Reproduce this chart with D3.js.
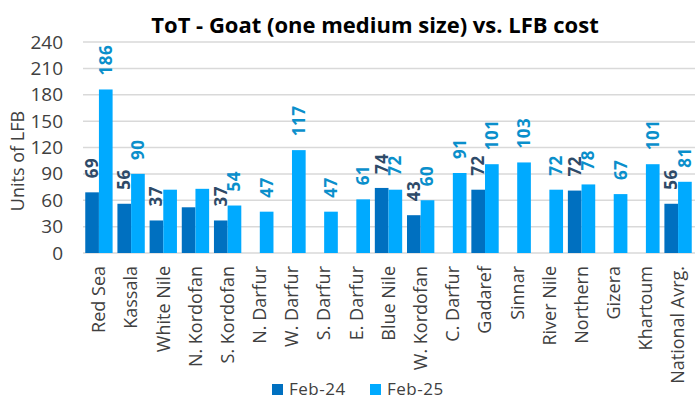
<!DOCTYPE html>
<html>
<head>
<meta charset="utf-8">
<script src="https://cdn.jsdelivr.net/npm/d3@7"></script>
<style>
  body { margin: 0; background: #fff; }
  text { font-family: "Open Sans", sans-serif; }
</style>
</head>
<body>
<div id="chart"></div>
<script>
const categories = ["Red Sea", "Kassala", "White Nile", "N. Kordofan", "S. Kordofan", "N. Darfur",
  "W. Darfur", "S. Darfur", "E. Darfur", "Blue Nile", "W. Kordofan", "C. Darfur", "Gadaref",
  "Sinnar", "River Nile", "Northern", "Gizera", "Khartoum", "National Avrg."];
const feb24 = [69, 56, 37, 52, 37, null, null, null, null, 74, 43, null, 72, null, null, 71, null, null, 56];
const feb25 = [186, 90, 72, 73, 54, 47, 117, 47, 61, 72, 60, 91, 101, 103, 72, 78, 67, 101, 81];
// labels that appear on the chart (some are missing in the original)
const feb24Labels = [69, 56, 37, null, 37, null, null, null, null, 74, 43, null, 72, null, null, 72, null, null, 56];
const feb25Labels = [186, 90, null, null, 54, 47, 117, 47, 61, 72, 60, 91, 101, 103, 72, 78, 67, 101, 81];
const seriesNames = ["Feb-24", "Feb-25"];
const yTicks = [0, 30, 60, 90, 120, 150, 180, 210, 240];

const colors = ["#0070C0", "#00AAFF"];
const labelColors = ["#2E4A68", "#0A8FCB"];

const width = 695, height = 400;
const margin = { top: 42, right: 1, bottom: 147, left: 83 };

const svg = d3.select("#chart").append("svg")
  .attr("width", width)
  .attr("height", height);

const x = d3.scaleBand().domain(categories).range([margin.left, width - margin.right]).paddingInner(0.15).paddingOuter(0.07);
const xs = d3.scaleBand().domain(seriesNames).range([0, x.bandwidth()]);
const y = d3.scaleLinear().domain([0, 240]).range([height - margin.bottom, margin.top]);

// gridlines
svg.append("g")
  .selectAll("line")
  .data(yTicks)
  .enter().append("line")
  .attr("x1", margin.left)
  .attr("x2", width)
  .attr("y1", d => y(d))
  .attr("y2", d => y(d))
  .attr("stroke", "#D9D9D9")
  .attr("stroke-width", 1.5);

// y axis labels
const yAxis = d3.axisLeft(y).tickValues(yTicks).tickSize(0).tickPadding(20);
const gy = svg.append("g")
  .attr("transform", "translate(" + margin.left + ",0)")
  .call(yAxis);
gy.select(".domain").remove();
gy.selectAll("text")
  .style("font-size", "19px")
  .attr("fill", "#404040");

svg.append("text")
  .attr("transform", "translate(24,161) rotate(-90)")
  .attr("text-anchor", "middle")
  .style("font-size", "18px")
  .attr("fill", "#404040")
  .text("Units of LFB");

// x axis labels
const xAxis = d3.axisBottom(x).tickSize(0).tickPadding(0);
const gx = svg.append("g")
  .attr("transform", "translate(0," + (height - margin.bottom) + ")")
  .call(xAxis);
gx.select(".domain").remove();
gx.selectAll("text")
  .style("font-size", "18px")
  .attr("fill", "#404040")
  .attr("text-anchor", "end")
  .attr("transform", "rotate(-90)")
  .attr("x", -13)
  .attr("y", 0)
  .attr("dy", "0.35em");

// bars
const series = [feb24, feb25];
const seriesLabels = [feb24Labels, feb25Labels];
series.forEach((vals, si) => {
  const rows = categories.map((c, i) => ({ cat: c, v: vals[i], lab: seriesLabels[si][i] }));
  svg.append("g")
    .selectAll("rect")
    .data(rows.filter(d => d.v !== null))
    .enter().append("rect")
    .attr("x", d => x(d.cat) + xs(seriesNames[si]))
    .attr("width", xs.bandwidth())
    .attr("y", d => y(d.v))
    .attr("height", d => y(0) - y(d.v))
    .attr("fill", colors[si]);

  svg.append("g")
    .selectAll("text")
    .data(rows.filter(d => d.lab !== null))
    .enter().append("text")
    .attr("transform", d => "translate(" + (x(d.cat) + xs(seriesNames[si]) + xs.bandwidth() / 2) + "," + (y(d.v) - 14) + ") rotate(-90)")
    .attr("dy", "0.35em")
    .attr("text-anchor", "start")
    .style("font-size", "17px")
    .style("font-weight", "bold")
    .style("letter-spacing", "0.5px")
    .attr("fill", labelColors[si])
    .text(d => d.lab);
});

// title
svg.append("text")
  .attr("x", 375)
  .attr("y", 33)
  .attr("text-anchor", "middle")
  .style("font-size", "22px")
  .style("font-weight", "bold")
  .attr("fill", "#000")
  .text("ToT - Goat (one medium size) vs. LFB cost");

// legend
const legend = svg.append("g").attr("transform", "translate(272,384)");
seriesNames.forEach((name, i) => {
  const g = legend.append("g").attr("transform", "translate(" + (i * 98) + ",0)");
  g.append("rect").attr("width", 11).attr("height", 11).attr("fill", colors[i]);
  g.append("text")
    .attr("x", 17)
    .attr("y", 11)
    .style("font-size", "17px")
    .style("letter-spacing", "0.5px")
    .attr("fill", "#404040")
    .text(name);
});
</script>
</body>
</html>
